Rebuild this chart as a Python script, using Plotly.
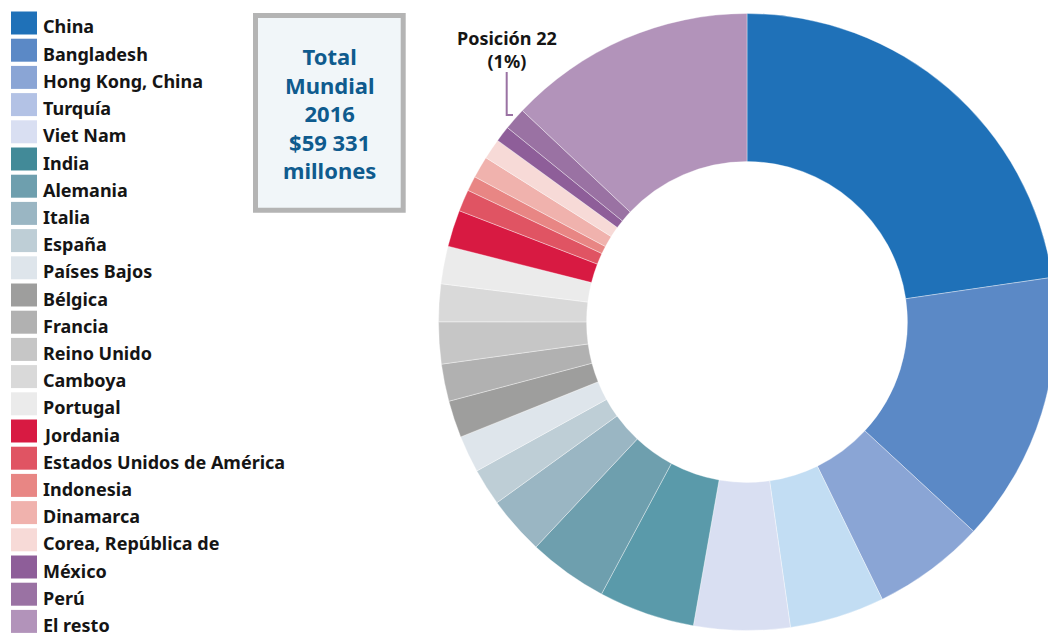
import plotly.graph_objects as go

# ---- data ----
countries = ["China", "Bangladesh", "Hong Kong, China", "Turquía", "Viet Nam", "India",
             "Alemania", "Italia", "España", "Países Bajos", "Bélgica", "Francia",
             "Reino Unido", "Camboya", "Portugal", "Jordania", "Estados Unidos de América",
             "Indonesia", "Dinamarca", "Corea, República de", "México", "Perú", "El resto"]
shares = [22.67, 14.17, 5.90, 4.97, 5.03, 5.03,
          4.17, 3.05, 1.94, 1.94, 1.94, 1.95,
          2.19, 1.97, 1.97, 1.92, 1.14,
          0.78, 1.14, 1.08, 0.83, 1.17, 12.97]
box_lines = ["Total", "Mundial", "2016", "$59 331", "millones"]
callout_lines = ["Posición 22", "(1%)"]
callout_index = 21

# ---- styles ----
slice_colors = ["#1F71B8", "#5B89C6", "#8AA5D5", "#C2DDF3", "#D9DFF2", "#5A9AAA",
                "#6E9FAE", "#9AB6C3", "#BECED6", "#DEE5EB", "#9E9E9D", "#B1B1B1",
                "#C6C6C6", "#D9D9D9", "#EBEBEB", "#D81A42", "#E05463",
                "#E88684", "#F0B2AD", "#F7DAD7", "#8E5E99", "#9A72A3", "#B293BA"]
legend_colors = list(slice_colors)
legend_colors[3] = "#B3C2E5"
legend_colors[5] = "#428A98"

# figure is slightly wider than the window so the donut is cut at the right edge,
# as in the reference
W, H = 1056, 638
FONT = "Noto Sans"


def px(x):
    return x / W


def py(y):
    return 1 - y / H


fig = go.Figure()

cx, cy, R = 747, 322, 308.5
fig.add_trace(go.Pie(
    labels=countries,
    values=shares,
    sort=False,
    direction="clockwise",
    rotation=0,
    hole=0.52,
    marker=dict(colors=slice_colors, line=dict(color="rgba(255,255,255,0.6)", width=0.6)),
    textinfo="none",
    hoverinfo="label+percent",
    showlegend=False,
    domain=dict(x=[px(cx - R), min(1, px(cx + R))], y=[py(cy + R), py(cy - R)]),
))

shapes = []
annotations = []

# custom legend
top0, pitch = 11.5, 27.2
for i, (name, col) in enumerate(zip(countries, legend_colors)):
    t = top0 + pitch * i
    shapes.append(dict(type="rect", xref="paper", yref="paper",
                       x0=px(11), x1=px(37), y0=py(t), y1=py(t + 23),
                       fillcolor=col, line=dict(width=0)))
    annotations.append(dict(text=name, xref="paper", yref="paper",
                            x=px(41), y=py(t + 15), xanchor="left", yanchor="middle",
                            showarrow=False,
                            font=dict(family=FONT, size=18, color="#151515", weight="bold")))

# total box
shapes.append(dict(type="rect", xref="paper", yref="paper",
                   x0=px(255.5), x1=px(403.2), y0=py(15.5), y1=py(210.2),
                   fillcolor="#F1F6F9", line=dict(color="#B4B4B4", width=5)))
annotations.append(dict(text="<br>".join(box_lines), xref="paper", yref="paper",
                        x=px(329.5), y=py(113.4), xanchor="center", yanchor="middle",
                        align="center", showarrow=False,
                        font=dict(family=FONT, size=22, color="#0F5B8E", weight="bold")))

# callout for position 22
annotations.append(dict(text="<br>".join(callout_lines), xref="paper", yref="paper",
                        x=px(507), y=py(49), xanchor="center", yanchor="middle",
                        align="center", showarrow=False,
                        font=dict(family=FONT, size=18, color="#151515", weight="bold")))
shapes.append(dict(type="path", xref="paper", yref="paper",
                   path=f"M {px(506.7)},{py(72)} L {px(506.7)},{py(115)} L {px(513)},{py(115)}",
                   line=dict(color=slice_colors[callout_index], width=2)))

fig.update_layout(
    width=W, height=H,
    margin=dict(l=0, r=0, t=0, b=0),
    paper_bgcolor="white",
    plot_bgcolor="white",
    shapes=shapes,
    annotations=annotations,
    font=dict(family=FONT),
)

fig.write_html(
    "out.html",
    config={"displayModeBar": False},
    post_script="document.body.style.margin='0px';document.body.style.overflow='hidden';",
)
